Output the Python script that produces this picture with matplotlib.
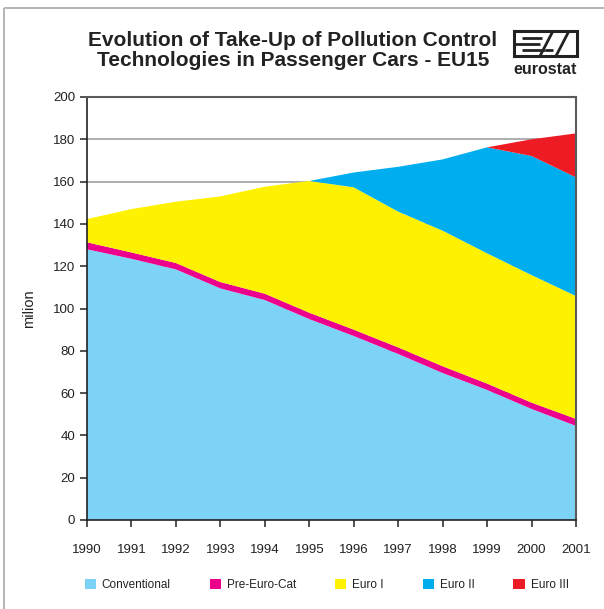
import matplotlib
matplotlib.use("Agg")
import matplotlib.pyplot as plt
from matplotlib.patches import Rectangle
from matplotlib.lines import Line2D

plt.rcParams['font.family'] = ['Liberation Sans', 'DejaVu Sans']

years = [1990, 1991, 1992, 1993, 1994, 1995, 1996, 1997, 1998, 1999, 2000, 2001]
conventional = [128.0, 123.5, 118.5, 109.5, 104.0, 95.0, 87.0, 78.5, 69.5, 61.5, 52.5, 44.5]
pre_euro_cat = [3.3, 3.0, 3.0, 3.0, 3.0, 3.0, 3.0, 3.1, 3.2, 3.0, 3.0, 3.3]
euro_1 = [11.0, 20.5, 29.0, 40.5, 50.6, 62.3, 67.3, 64.2, 64.1, 61.6, 60.3, 58.1]
euro_2 = [0, 0, 0, 0, 0, 0, 7.0, 21.2, 33.7, 50.1, 56.3, 56.1]
euro_3 = [0, 0, 0, 0, 0, 0, 0, 0, 0, 0, 7.9, 20.8]
series_names = ["Conventional", "Pre-Euro-Cat", "Euro I", "Euro II", "Euro III"]
colors = ["#7dd3f5", "#ec008c", "#fff200", "#00aeef", "#ed1c24"]
y_ticks = [0, 20, 40, 60, 80, 100, 120, 140, 160, 180, 200]

W, H = 604, 609
fig = plt.figure(figsize=(W / 100, H / 100), dpi=100)

def seg(x1, y1, x2, y2, color="#222222", lw=1.6):
    fig.add_artist(Line2D([x1 / W, x2 / W], [1 - y1 / H, 1 - y2 / H], transform=fig.transFigure,
                          color=color, linewidth=lw, solid_capstyle="butt"))

# page frame (top and left edges)
seg(4, 8, 604, 8, color="#b4b4b4", lw=1.4)
seg(4, 8, 4, 609, color="#b4b4b4", lw=1.4)

ax = fig.add_axes([87 / W, 1 - 520 / H, (576 - 87) / W, (520 - 97) / H])
ax.stackplot(years, conventional, pre_euro_cat, euro_1, euro_2, euro_3,
             colors=colors, linewidth=0, zorder=2)

ax.set_xlim(1990, 2001)
ax.set_ylim(0, 200)
ax.set_xticks(years)
ax.set_xticklabels([str(y) for y in years])
ax.set_yticks(y_ticks)
for v in y_ticks[1:-1]:
    ax.axhline(v, color="#a0a0a0", linewidth=1.2, zorder=1)

for side in ["left", "bottom"]:
    ax.spines[side].set_color("#222222")
    ax.spines[side].set_linewidth(1.2)
for side in ["top", "right"]:
    ax.spines[side].set_color("#5a5a5a")
    ax.spines[side].set_linewidth(1.5)
ax.tick_params(axis="both", direction="out", length=5, width=1.1, colors="#222222",
               labelsize=9.5, labelcolor="#222222")
ax.tick_params(axis="x", pad=12)
ax.set_ylabel("milion", fontsize=10.5, color="#222222", labelpad=12)

fig.text(293 / W, 1 - 40 / H, "Evolution of Take-Up of Pollution Control",
         ha="center", va="center", fontsize=15, fontweight="bold", color="#222222")
fig.text(293 / W, 1 - 60 / H, "Technologies in Passenger Cars - EU15",
         ha="center", va="center", fontsize=15, fontweight="bold", color="#222222")

# eurostat logo
lx0, ly0, lw, lh = 514, 31, 63, 25
fig.add_artist(Rectangle((lx0 / W, 1 - (ly0 + lh) / H), lw / W, lh / H,
                         transform=fig.transFigure, fill=False, edgecolor="#222222", linewidth=2.2))
seg(522, 37.5, 542, 37.5, lw=2.0)
seg(514, 43.5, 540, 43.5, lw=2.0)
seg(522, 49.5, 545, 49.5, lw=2.0)
seg(540, 56, 553, 31, lw=2.0)
seg(545, 49.5, 553, 49.5, lw=2.0)
seg(556, 56, 569, 31, lw=2.0)
fig.text((lx0 + lw / 2) / W, 1 - 69 / H, "eurostat", ha="center", va="center",
         fontsize=11.5, fontweight="bold", color="#222222")

handles = [Rectangle((0, 0), 1, 1, facecolor=c, edgecolor="none") for c in colors]
fig.legend(handles, series_names, loc="center left", bbox_to_anchor=(74 / W, 1 - 585 / H),
           ncol=5, frameon=False, fontsize=8.5, handlelength=0.95, handleheight=0.95,
           handletextpad=0.5, columnspacing=3.3, labelcolor="#222222")

fig.savefig("out.png", dpi=100)
